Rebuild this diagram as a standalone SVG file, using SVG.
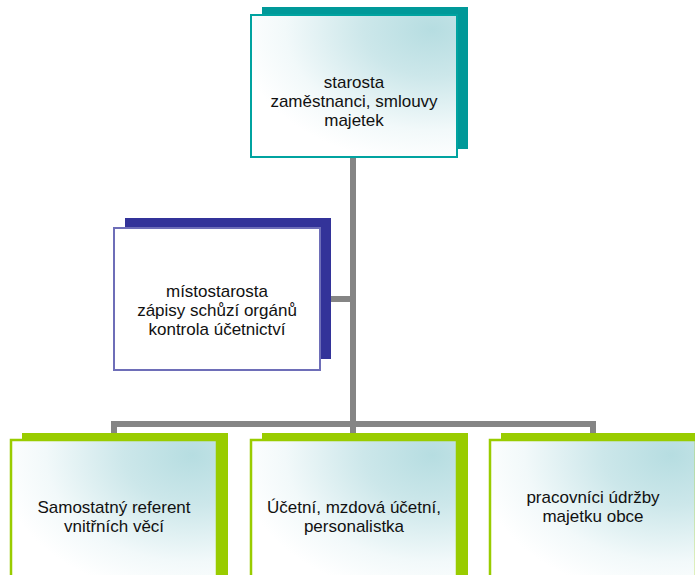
<svg xmlns="http://www.w3.org/2000/svg" width="695" height="575" viewBox="0 0 695 575">
  <defs>
    <radialGradient id="fillGrad" cx="0.88" cy="0.1" r="0.95" fx="0.88" fy="0.1">
      <stop offset="0" stop-color="#B6DDE1"/>
      <stop offset="0.35" stop-color="#CCE7EA"/>
      <stop offset="0.75" stop-color="#F2F9FA"/>
      <stop offset="1" stop-color="#FFFFFF"/>
    </radialGradient>
  </defs>
  <style>
    .lbl { font-family: "Liberation Sans", Arial, sans-serif; font-size: 17px; fill: #111111; text-anchor: middle; }
    .conn { fill: none; stroke: #858585; stroke-width: 6; stroke-linejoin: miter; }
    .shTeal { fill: #009999; }
    .shNavy { fill: #333399; }
    .shGreen { fill: #99CC00; }
    .frTeal { fill: url(#fillGrad); stroke: #00A3A0; stroke-width: 2; }
    .frNavy { fill: #FFFFFF; stroke: #6E6EB8; stroke-width: 2; }
    .frGreen { fill: url(#fillGrad); stroke: #99CC00; stroke-width: 2.5; }
  </style>
  <rect width="695" height="575" fill="#FFFFFF"/>

  <g id="connectors">
    <path class="conn" d="M353 157 V424"/>
    <path class="conn" d="M331 299 H353"/>
    <path class="conn" d="M114 434 V424 H593 V434"/>
    <path class="conn" d="M353 424 V434"/>
  </g>

  <g id="starosta">
    <rect class="shTeal" x="262" y="7" width="206" height="142"/>
    <rect class="frTeal" x="251" y="15" width="206" height="142"/>
    <text class="lbl" x="354" y="88">starosta</text>
    <text class="lbl" x="354" y="107">zaměstnanci, smlouvy</text>
    <text class="lbl" x="354" y="126">majetek</text>
  </g>

  <g id="mistostarosta">
    <rect class="shNavy" x="125" y="218" width="206" height="141"/>
    <rect class="frNavy" x="114" y="228" width="206" height="142"/>
    <text class="lbl" x="217" y="297">místostarosta</text>
    <text class="lbl" x="217" y="316">zápisy schůzí orgánů</text>
    <text class="lbl" x="217" y="335">kontrola účetnictví</text>
  </g>

  <g id="referent">
    <rect class="shGreen" x="22" y="433" width="206" height="150"/>
    <rect class="frGreen" x="11" y="440" width="206" height="150"/>
    <text class="lbl" x="114" y="513">Samostatný referent</text>
    <text class="lbl" x="114" y="532">vnitřních věcí</text>
  </g>

  <g id="ucetni">
    <rect class="shGreen" x="262" y="433" width="206" height="150"/>
    <rect class="frGreen" x="251" y="440" width="206" height="150"/>
    <text class="lbl" x="354" y="513">Účetní, mzdová účetní,</text>
    <text class="lbl" x="354" y="532">personalistka</text>
  </g>

  <g id="udrzba">
    <rect class="shGreen" x="501" y="433" width="206" height="150"/>
    <rect class="frGreen" x="490" y="440" width="206" height="150"/>
    <text class="lbl" x="593" y="503">pracovníci údržby</text>
    <text class="lbl" x="593" y="522">majetku obce</text>
  </g>
</svg>
